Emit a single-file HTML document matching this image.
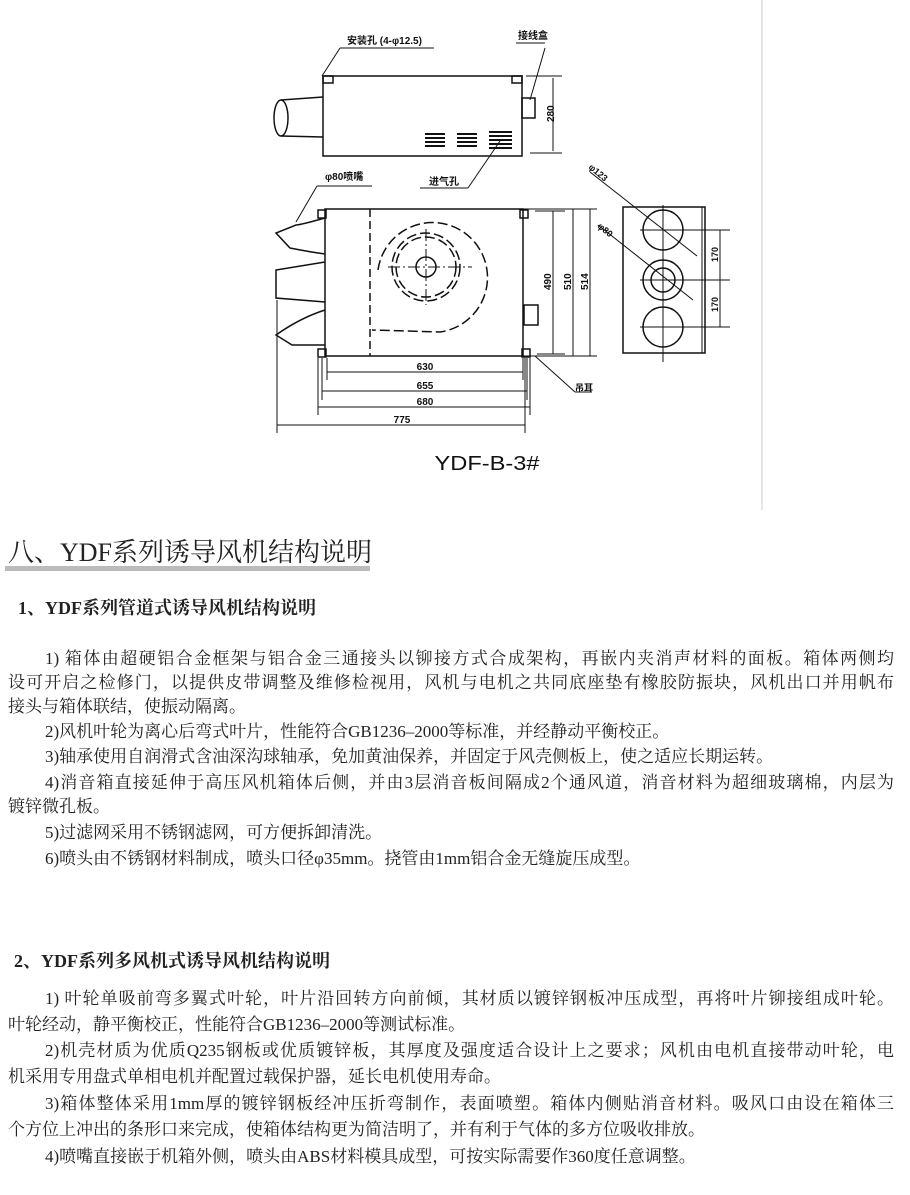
<!DOCTYPE html>
<html><head><meta charset="utf-8"><style>
body{margin:0;background:#fff;width:910px;height:1195px;position:relative;overflow:hidden;font-family:"Liberation Serif","Noto Serif CJK SC",serif;color:#222}
.l{position:absolute;left:8px;width:886px;font-size:17px;line-height:20px;white-space:nowrap;text-align:justify;text-align-last:justify}
.s{text-align-last:left}
.i{left:45px;width:849px}
svg{position:absolute;left:0;top:0}
svg text{font-family:"Liberation Sans","Noto Sans CJK SC",sans-serif;fill:#111}
</style></head><body>
<svg width="910" height="520" viewBox="0 0 910 520" stroke="#111" fill="none" stroke-width="1.5">
<line x1="762" y1="0" x2="762" y2="510" stroke="#ccc" stroke-width="1"/>
<!-- top view -->
<rect x="323" y="76" width="199" height="80"/>
<ellipse cx="281" cy="118" rx="7" ry="18"/>
<line x1="281" y1="100" x2="323" y2="97"/><line x1="281" y1="136" x2="323" y2="137"/>
<rect x="323" y="76" width="10" height="7"/><rect x="512" y="76" width="10" height="7"/>
<rect x="522" y="98" width="13" height="20"/>
<g stroke-width="2">
<path d="M425 134h20M425 138h20M425 142h20M425 146h20M457 134h20M457 138h20M457 142h20M457 146h20M489 132h23M489 136h23M489 140h23M489 144h23M489 148h23"/>
</g>
<line x1="526" y1="76" x2="562" y2="76" stroke-width="1"/><line x1="530" y1="153" x2="562" y2="153" stroke-width="1"/>
<line x1="553" y1="78" x2="553" y2="151" stroke-width="1"/>
<text transform="translate(554,122) rotate(-90)" font-size="10" stroke="none" font-weight="bold">280</text>
<text x="347" y="44" font-size="10" stroke="none" font-weight="bold">安装孔 (4-φ12.5)</text>
<line x1="340" y1="48" x2="434" y2="48" stroke-width="1"/><line x1="340" y1="48" x2="322" y2="76" stroke-width="1"/>
<text x="518" y="39" font-size="10" stroke="none" font-weight="bold">接线盒</text>
<line x1="516" y1="43" x2="545" y2="43" stroke-width="1"/><line x1="545" y1="48" x2="530" y2="100" stroke-width="1"/>
<text x="429" y="185" font-size="10" stroke="none" font-weight="bold">进气孔</text>
<line x1="420" y1="188" x2="468" y2="188" stroke-width="1"/><line x1="468" y1="188" x2="500" y2="141" stroke-width="1"/>
<text x="325" y="180" font-size="10" stroke="none" font-weight="bold">φ80喷嘴</text>
<line x1="317" y1="186" x2="372" y2="186" stroke-width="1"/><line x1="317" y1="186" x2="296" y2="222" stroke-width="1"/>
<!-- front view -->
<rect x="325" y="209" width="198" height="147"/>
<line x1="370" y1="209" x2="370" y2="356" stroke-dasharray="8,4"/>
<circle cx="426" cy="267" r="34" stroke-dasharray="10,4"/>
<circle cx="426" cy="267" r="30" stroke-dasharray="10,4"/>
<path d="M378 270 A55 55 0 1 1 440 332 L372 330" stroke-dasharray="10,4"/>
<circle cx="426" cy="267" r="10"/>
<line x1="388" y1="267" x2="472" y2="267" stroke-dasharray="12,3,2,3" stroke-width="1"/>
<line x1="426" y1="229" x2="426" y2="305" stroke-dasharray="12,3,2,3" stroke-width="1"/>
<rect x="318" y="210" width="8" height="8"/><rect x="520" y="210" width="8" height="8"/>
<rect x="318" y="349" width="8" height="8"/><rect x="522" y="349" width="8" height="8"/>
<rect x="524" y="305" width="14" height="20"/>
<path d="M325 218 Q300 225 296 225 L276 233 L290 248 Q310 252 325 254"/>
<path d="M325 262 L276 270 L276 298 L325 302"/>
<path d="M325 310 Q300 318 276 335 L292 345 Q310 345 325 345"/>
<!-- right dims -->
<g stroke-width="1">
<line x1="535" y1="211" x2="565" y2="211"/><line x1="537" y1="354" x2="565" y2="354"/>
<line x1="523" y1="209" x2="597" y2="209"/><line x1="523" y1="356" x2="597" y2="356"/>
<line x1="553" y1="211" x2="553" y2="354"/><line x1="573" y1="209" x2="573" y2="356"/><line x1="590" y1="209" x2="590" y2="356"/>
</g>
<g font-size="10" stroke="none" font-weight="bold">
<text transform="translate(551,290) rotate(-90)">490</text>
<text transform="translate(571,290) rotate(-90)">510</text>
<text transform="translate(588,290) rotate(-90)">514</text>
</g>
<!-- bottom dims -->
<g stroke-width="1">
<line x1="327" y1="372" x2="523" y2="372"/><line x1="322" y1="391" x2="527" y2="391"/>
<line x1="318" y1="407" x2="530" y2="407"/><line x1="277" y1="425" x2="525" y2="425"/>
<line x1="327" y1="358" x2="327" y2="380"/><line x1="322" y1="358" x2="322" y2="400"/><line x1="318" y1="358" x2="318" y2="415"/>
<line x1="277" y1="300" x2="277" y2="433"/>
<line x1="523" y1="358" x2="523" y2="380"/><line x1="527" y1="358" x2="527" y2="400"/><line x1="530" y1="358" x2="530" y2="415"/><line x1="525" y1="358" x2="525" y2="433"/>
<line x1="535" y1="356" x2="575" y2="392"/><line x1="575" y1="392" x2="592" y2="392"/>
</g>
<g font-size="10" stroke="none" font-weight="bold" text-anchor="middle">
<text x="425" y="370">630</text><text x="425" y="389">655</text><text x="425" y="405">680</text><text x="402" y="423">775</text>
<text x="584" y="391" font-size="9">吊耳</text>
</g>
<!-- side view -->
<rect x="623" y="207" width="82" height="146"/>
<circle cx="663" cy="230" r="20"/><circle cx="663" cy="280" r="20"/><circle cx="663" cy="327" r="20"/>
<circle cx="663" cy="280" r="12"/>
<g stroke-width="1">
<line x1="640" y1="230" x2="730" y2="230"/><line x1="640" y1="280" x2="730" y2="280"/><line x1="640" y1="327" x2="730" y2="327"/>
<line x1="663" y1="205" x2="663" y2="362"/>
<line x1="720" y1="230" x2="720" y2="327"/><line x1="702" y1="207" x2="702" y2="353"/>
<line x1="590" y1="172" x2="697" y2="256"/><line x1="598" y1="225" x2="693" y2="300"/>
</g>
<g font-size="9" stroke="none" font-weight="bold">
<text transform="translate(718,262) rotate(-90)">170</text>
<text transform="translate(718,312) rotate(-90)">170</text>
<text transform="translate(588,168) rotate(40)">φ123</text>
<text transform="translate(597,227) rotate(40)">φ80</text>
</g>
<text x="487" y="470" font-size="20" stroke="none" text-anchor="middle" textLength="105" lengthAdjust="spacingAndGlyphs">YDF-B-3#</text>
</svg>

<div style="position:absolute;left:8px;top:532px;font-size:26px;white-space:nowrap">八、YDF系列诱导风机结构说明</div>
<div style="position:absolute;left:5px;top:566px;width:365px;height:5px;background:#bbb"></div>
<div style="position:absolute;left:18px;top:594px;font-size:18px;font-weight:bold;white-space:nowrap">1、YDF系列管道式诱导风机结构说明</div>

<div class="l i" style="top:649px">1) 箱体由超硬铝合金框架与铝合金三通接头以铆接方式合成架构，再嵌内夹消声材料的面板。箱体两侧均</div>
<div class="l" style="top:673px">设可开启之检修门，以提供皮带调整及维修检视用，风机与电机之共同底座垫有橡胶防振块，风机出口并用帆布</div>
<div class="l s" style="top:697px">接头与箱体联结，使振动隔离。</div>
<div class="l i s" style="top:722px">2)风机叶轮为离心后弯式叶片，性能符合GB1236–2000等标准，并经静动平衡校正。</div>
<div class="l i s" style="top:747px">3)轴承使用自润滑式含油深沟球轴承，免加黄油保养，并固定于风壳侧板上，使之适应长期运转。</div>
<div class="l i" style="top:773px">4)消音箱直接延伸于高压风机箱体后侧，并由3层消音板间隔成2个通风道，消音材料为超细玻璃棉，内层为</div>
<div class="l s" style="top:797px">镀锌微孔板。</div>
<div class="l i s" style="top:823px">5)过滤网采用不锈钢滤网，可方便拆卸清洗。</div>
<div class="l i s" style="top:849px">6)喷头由不锈钢材料制成，喷头口径φ35mm。挠管由1mm铝合金无缝旋压成型。</div>

<div style="position:absolute;left:14px;top:947px;font-size:18px;font-weight:bold;white-space:nowrap">2、YDF系列多风机式诱导风机结构说明</div>

<div class="l i" style="top:989px">1) 叶轮单吸前弯多翼式叶轮，叶片沿回转方向前倾，其材质以镀锌钢板冲压成型，再将叶片铆接组成叶轮。</div>
<div class="l s" style="top:1015px">叶轮经动，静平衡校正，性能符合GB1236–2000等测试标准。</div>
<div class="l i" style="top:1041px">2)机壳材质为优质Q235钢板或优质镀锌板，其厚度及强度适合设计上之要求；风机由电机直接带动叶轮，电</div>
<div class="l s" style="top:1067px">机采用专用盘式单相电机并配置过载保护器，延长电机使用寿命。</div>
<div class="l i" style="top:1094px">3)箱体整体采用1mm厚的镀锌钢板经冲压折弯制作，表面喷塑。箱体内侧贴消音材料。吸风口由设在箱体三</div>
<div class="l s" style="top:1120px">个方位上冲出的条形口来完成，使箱体结构更为简洁明了，并有利于气体的多方位吸收排放。</div>
<div class="l i s" style="top:1147px">4)喷嘴直接嵌于机箱外侧，喷头由ABS材料模具成型，可按实际需要作360度任意调整。</div>
</body></html>
